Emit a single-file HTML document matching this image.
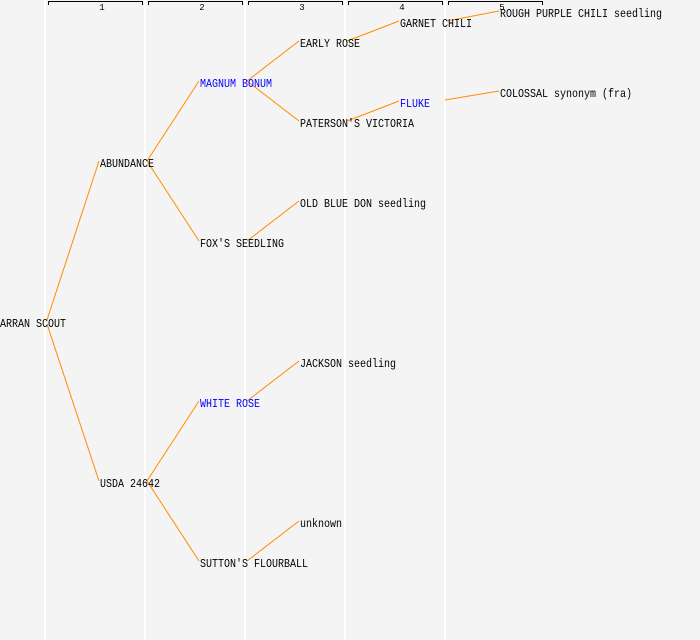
<!DOCTYPE html>
<html><head><style>html,body{margin:0;padding:0;background:#f4f4f4;}svg{display:block}</style></head>
<body>
<svg width="700" height="640" xmlns="http://www.w3.org/2000/svg" font-family="Liberation Mono, monospace" font-size="10">
<rect width="700" height="640" fill="#f4f4f4"/>
<g stroke="#ffffff" stroke-width="2">
<line x1="45" y1="0" x2="45" y2="640"/><line x1="145" y1="0" x2="145" y2="640"/><line x1="245" y1="0" x2="245" y2="640"/><line x1="345" y1="0" x2="345" y2="640"/><line x1="445" y1="0" x2="445" y2="640"/>
</g>
<g stroke="#000" stroke-width="1" fill="none">
<path d="M48.5 5V1.5H142.5V5"/><path d="M148.5 5V1.5H242.5V5"/><path d="M248.5 5V1.5H342.5V5"/><path d="M348.5 5V1.5H442.5V5"/><path d="M448.5 5V1.5H542.5V5"/>
</g>
<g font-size="9" text-anchor="middle" fill="#000">
<text x="102" y="10">1</text><text x="202" y="10">2</text><text x="302" y="10">3</text><text x="402" y="10">4</text><text x="502" y="10">5</text>
</g>
<g stroke="#ff8c00" stroke-width="1" fill="none">
<line x1="47" y1="320" x2="99" y2="161"/><line x1="47" y1="324" x2="99" y2="481"/>
<line x1="147" y1="161" x2="199" y2="81"/><line x1="147" y1="161" x2="199" y2="241"/>
<line x1="247" y1="81" x2="299" y2="41"/><line x1="247" y1="81" x2="299" y2="121"/>
<line x1="347" y1="41" x2="399" y2="21"/><line x1="447" y1="21" x2="499" y2="11"/>
<line x1="347" y1="121" x2="399" y2="101"/><line x1="445" y1="100" x2="499" y2="91"/>
<line x1="247" y1="241" x2="299" y2="201"/>
<line x1="147" y1="481" x2="199" y2="401"/><line x1="147" y1="481" x2="199" y2="561"/>
<line x1="247" y1="401" x2="299" y2="361"/><line x1="247" y1="561" x2="299" y2="521"/>
</g>
<g fill="#000" font-size="12">
<text x="0" y="327" textLength="66" lengthAdjust="spacingAndGlyphs">ARRAN SCOUT</text>
<text x="100" y="167" textLength="54" lengthAdjust="spacingAndGlyphs">ABUNDANCE</text>
<text x="100" y="487" textLength="60" lengthAdjust="spacingAndGlyphs">USDA 24642</text>
<text x="200" y="87" fill="#0000ff" textLength="72" lengthAdjust="spacingAndGlyphs">MAGNUM BONUM</text>
<text x="200" y="247" textLength="84" lengthAdjust="spacingAndGlyphs">FOX'S SEEDLING</text>
<text x="200" y="407" fill="#0000ff" textLength="60" lengthAdjust="spacingAndGlyphs">WHITE ROSE</text>
<text x="200" y="567" textLength="108" lengthAdjust="spacingAndGlyphs">SUTTON'S FLOURBALL</text>
<text x="300" y="47" textLength="60" lengthAdjust="spacingAndGlyphs">EARLY ROSE</text>
<text x="300" y="127" textLength="114" lengthAdjust="spacingAndGlyphs">PATERSON'S VICTORIA</text>
<text x="300" y="207" textLength="126" lengthAdjust="spacingAndGlyphs">OLD BLUE DON seedling</text>
<text x="300" y="367" textLength="96" lengthAdjust="spacingAndGlyphs">JACKSON seedling</text>
<text x="300" y="527" textLength="42" lengthAdjust="spacingAndGlyphs">unknown</text>
<text x="400" y="27" textLength="72" lengthAdjust="spacingAndGlyphs">GARNET CHILI</text>
<text x="400" y="107" fill="#0000ff" textLength="30" lengthAdjust="spacingAndGlyphs">FLUKE</text>
<text x="500" y="17" textLength="162" lengthAdjust="spacingAndGlyphs">ROUGH PURPLE CHILI seedling</text>
<text x="500" y="97" textLength="132" lengthAdjust="spacingAndGlyphs">COLOSSAL synonym (fra)</text>
</g>
</svg>
</body></html>
